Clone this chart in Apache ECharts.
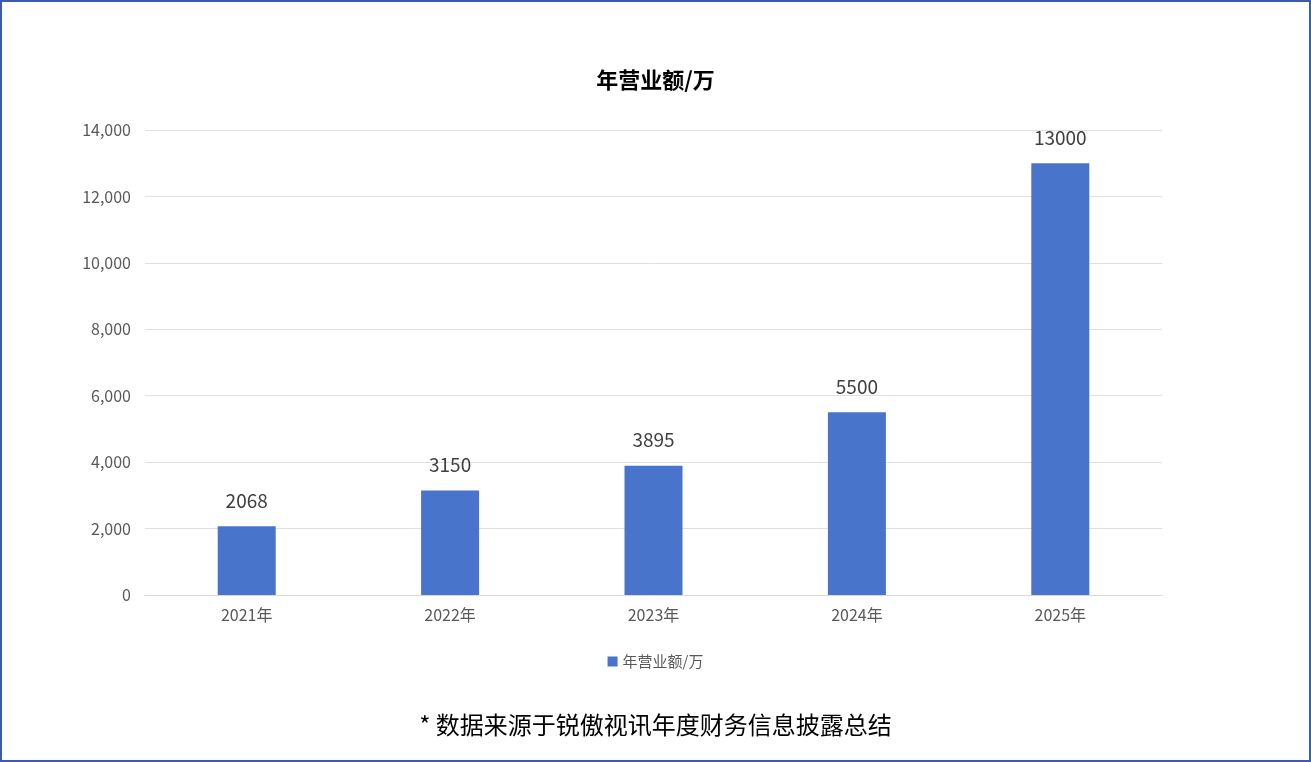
<!DOCTYPE html>
<html><head><meta charset="utf-8">
<script src="https://cdn.jsdelivr.net/npm/echarts@6/dist/echarts.min.js"></script>
<style>html,body{margin:0;padding:0;background:#fff}
#c{width:1307px;height:758px;border:2px solid #3b5ca6;}</style></head>
<body><div id="c"></div>
<script>
const categories=['2021年','2022年','2023年','2024年','2025年'];
const revenue=[2068,3150,3895,5500,13000];
const seriesName='年营业额/万';
const titleText='年营业额/万';
const footnote='* 数据来源于锐傲视讯年度财务信息披露总结';
const font='"Noto Sans CJK SC","Noto Sans",sans-serif';
const chart=echarts.init(document.getElementById('c'));
chart.setOption({
  animation:false,
  title:[{text:titleText,left:'center',top:62,textStyle:{fontSize:22,fontWeight:'bold',color:'#000',fontFamily:font}},
         {text:footnote,left:'center',top:706,textStyle:{fontSize:24,fontWeight:'normal',color:'#000',fontFamily:font}}],
  legend:{bottom:86,left:'center',itemWidth:10,itemHeight:10,icon:'rect',textStyle:{fontSize:15,color:'#595959',fontFamily:font},data:[seriesName]},
  grid:{left:143,right:147,top:128,bottom:165},
  xAxis:{type:'category',data:categories,axisTick:{show:false},axisLine:{lineStyle:{color:'#d9d9d9'}},
    axisLabel:{fontSize:16,color:'#595959',margin:12,fontFamily:font}},
  yAxis:{type:'value',min:0,max:14000,interval:2000,axisLine:{show:false},axisTick:{show:false},
    splitLine:{lineStyle:{color:'#e0e0e0'}},axisLabel:{fontSize:16,color:'#595959',margin:14,fontFamily:font}},
  series:[{name:seriesName,type:'bar',data:revenue,barWidth:58,itemStyle:{color:'#4874cb'},
    label:{show:true,position:'top',distance:16,fontSize:19,color:'#404040',fontFamily:font}}]
});
</script></body></html>
